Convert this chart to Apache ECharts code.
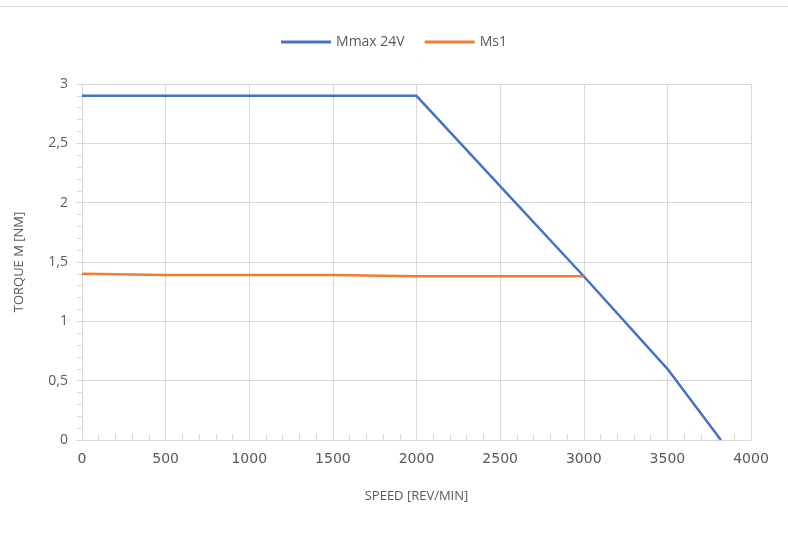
<!DOCTYPE html>
<html>
<head>
<meta charset="utf-8">
<script src="https://cdn.jsdelivr.net/npm/echarts@6/dist/echarts.min.js"></script>
<style>
	html, body { margin: 0; padding: 0; background: #fff; }
	#chart { width: 788px; height: 535px; }
</style>
</head>
<body>
<div id="chart"></div>
<script>
// data
var seriesNames = ['Mmax 24V', 'Ms1'];
var mmaxSpeed = [0, 2000, 2500, 3000, 3500, 3820];
var mmaxTorque = [2.9, 2.9, 2.14, 1.38, 0.6, 0];
var ms1Speed = [0, 500, 1000, 1500, 2000, 2500, 3000];
var ms1Torque = [1.40, 1.39, 1.39, 1.39, 1.38, 1.38, 1.38];

function pairs(xs, ys) {
	var out = [];
	for (var i = 0; i < xs.length; i++) {
		out.push([xs[i], ys[i]]);
	}
	return out;
}

var txt = '#595959';
var grid = '#d9d9d9';
var font = "'Open Sans', 'Liberation Sans', sans-serif";

var option = {
	animation : false,
	textStyle : { fontFamily : font },
	legend : {
		top : 30,
		left : 'center',
		itemWidth : 50,
		itemHeight : 3,
		itemGap : 20,
		icon : 'rect',
		textStyle : { color : txt, fontSize : 14, fontFamily : font },
		data : seriesNames
	},
	graphic : [ {
		type : 'line',
		shape : { x1 : 0, y1 : 6.5, x2 : 788, y2 : 6.5 },
		style : { stroke : '#d9d9d9', lineWidth : 1 }
	} ],
	grid : { left : 82, right : 37, top : 84, bottom : 95 },
	xAxis : {
		type : 'value',
		min : 0,
		max : 4000,
		interval : 500,
		name : 'SPEED [REV/MIN]',
		nameLocation : 'middle',
		nameGap : 50,
		nameTextStyle : { color : txt, fontSize : 13 },
		axisLine : { lineStyle : { color : grid } },
		axisTick : { show : true, inside : true, length : 6, lineStyle : { color : grid } },
		minorTick : { show : true, splitNumber : 5, length : 6, lineStyle : { color : grid } },
		axisLabel : {
			color : txt,
			fontSize : 14,
			margin : 12,
			fontFamily : "'DejaVu Sans', sans-serif",
			formatter : function(v) {
				return String(v);
			}
		},
		splitLine : { show : true, lineStyle : { color : grid } }
	},
	yAxis : {
		type : 'value',
		min : 0,
		max : 3,
		interval : 0.5,
		name : 'TORQUE M [NM]',
		nameLocation : 'middle',
		nameGap : 56,
		nameTextStyle : { color : txt, fontSize : 13 },
		axisLine : { show : true, lineStyle : { color : grid } },
		axisTick : { show : true, length : 6, lineStyle : { color : grid } },
		minorTick : { show : true, splitNumber : 5, length : 5, lineStyle : { color : grid } },
		axisLabel : {
			color : txt,
			fontSize : 14,
			margin : 14,
			formatter : function(v) {
				return String(v).replace('.', ',');
			}
		},
		splitLine : { show : true, lineStyle : { color : grid } }
	},
	series : [ {
		name : seriesNames[0],
		type : 'line',
		showSymbol : false,
		color : '#4472C4',
		lineStyle : { width : 2.5, color : '#4472C4' },
		data : pairs(mmaxSpeed, mmaxTorque)
	}, {
		name : seriesNames[1],
		type : 'line',
		showSymbol : false,
		color : '#ED7D31',
		lineStyle : { width : 2.5, color : '#ED7D31' },
		data : pairs(ms1Speed, ms1Torque)
	} ]
};

var myChart = echarts.init(document.getElementById('chart'));
myChart.setOption(option);
</script>
</body>
</html>
